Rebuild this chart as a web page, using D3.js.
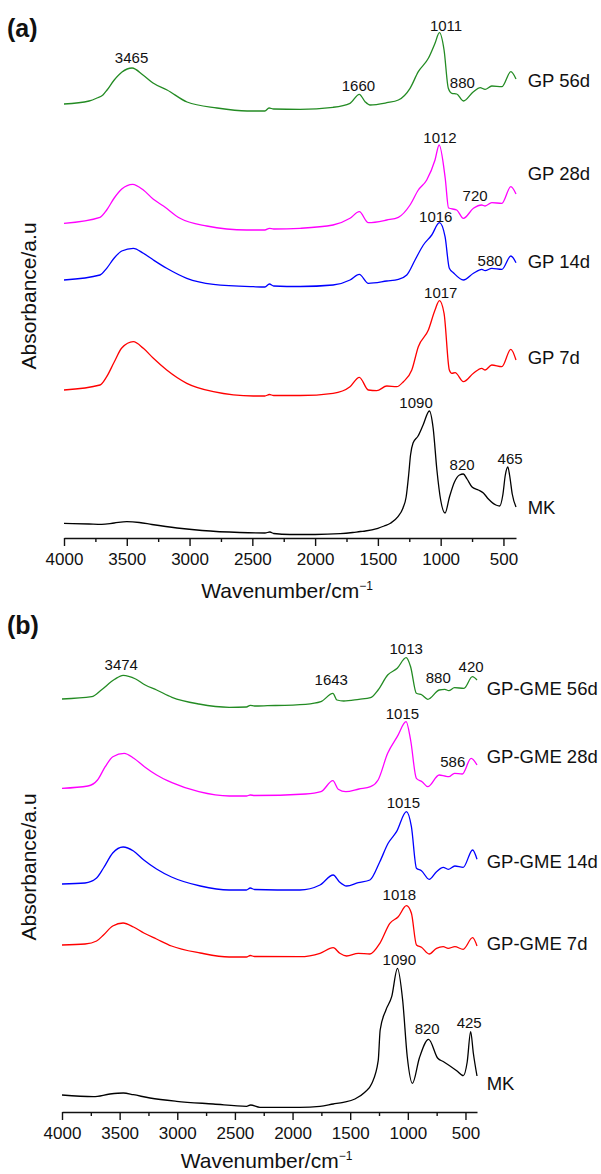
<!DOCTYPE html>
<html>
<head>
<meta charset="utf-8">
<script src="https://cdn.jsdelivr.net/npm/d3@7"></script>
<style>
  body { margin: 0; background: #fff; }
  text { font-family: "Liberation Sans", Arial, Helvetica, sans-serif; fill: #111; }
</style>
</head>
<body>
<div class="chart-box"></div>
<script>
let width = 601;
let height = 1174;

// tick marks on the wavenumber axis
let majorTicks = [4000, 3500, 3000, 2500, 2000, 1500, 1000, 500];
let minorTicks = [3750, 3250, 2750, 2250, 1750, 1250, 750];

// ---- panel (a) spectra : [wavenumber, absorbance a.u. (stacked)] ----
let gp56 = [[4000,4.34],[3800,4.37],[3737,4.40],[3690,4.43],[3657,4.48],[3600,4.58],[3538,4.66],[3458,4.70],
  [3371,4.63],[3291,4.55],[3179,4.48],[3020,4.36],[2781,4.30],[2542,4.27],[2400,4.27],[2367,4.30],[2330,4.29],
  [2120,4.287],[1857,4.307],[1722,4.347],[1648,4.437],[1602,4.363],[1562,4.33],[1429,4.353],[1337,4.38],
  [1244,4.497],[1178,4.663],[1098,4.797],[1045,4.947],[1010,5.053],[973,4.88],[939,4.497],[911,4.447],
  [872,4.44],[819,4.37],[739,4.463],[686,4.503],[646,4.487],[593,4.52],[513,4.513],[441,4.663],[400,4.59]];
let gp28 = [[4000,3.147],[3713,3.207],[3660,3.28],[3600,3.40],[3540,3.49],[3453,3.537],[3368,3.48],[3288,3.387],
  [3208,3.32],[3076,3.197],[2863,3.12],[2545,3.08],[2400,3.08],[2364,3.097],[2330,3.09],[2120,3.097],
  [1857,3.13],[1722,3.197],[1648,3.263],[1576,3.153],[1429,3.18],[1337,3.207],[1244,3.33],[1178,3.48],
  [1111,3.58],[1045,3.78],[1012,3.93],[964,3.60],[937,3.30],[872,3.28],[819,3.197],[739,3.297],[673,3.33],
  [646,3.32],[593,3.353],[513,3.347],[441,3.513],[400,3.44]];
let gp14 = [[4000,2.58],[3713,2.63],[3660,2.697],[3600,2.80],[3540,2.87],[3448,2.897],[3368,2.847],[3288,2.78],
  [3182,2.697],[3022,2.597],[2810,2.537],[2492,2.513],[2400,2.51],[2364,2.54],[2330,2.52],[2120,2.515],
  [1857,2.53],[1722,2.58],[1648,2.637],[1576,2.547],[1429,2.57],[1337,2.587],[1270,2.63],[1204,2.78],
  [1138,2.93],[1071,3.03],[1010,3.153],[965,3.013],[931,2.697],[899,2.653],[819,2.58],[739,2.647],
  [673,2.687],[646,2.673],[593,2.697],[513,2.687],[441,2.82],[400,2.753]];
let gp7 = [[4000,1.48],[3713,1.53],[3660,1.613],[3600,1.76],[3540,1.90],[3448,1.963],[3368,1.897],[3288,1.797],
  [3182,1.68],[3022,1.547],[2810,1.463],[2492,1.42],[2400,1.42],[2364,1.435],[2330,1.425],[2120,1.425],
  [1857,1.447],[1722,1.513],[1648,1.607],[1576,1.48],[1509,1.473],[1429,1.52],[1350,1.513],[1297,1.563],
  [1230,1.68],[1178,1.913],[1098,2.08],[1045,2.28],[1010,2.373],[973,2.247],[931,1.68],[911,1.647],
  [885,1.653],[819,1.563],[739,1.647],[673,1.697],[646,1.68],[593,1.73],[513,1.713],[441,1.887],[400,1.78]];
let mkA = [[4000,0.147],[3800,0.14],[3700,0.137],[3600,0.15],[3500,0.163],[3400,0.155],[3300,0.135],[3100,0.10],
  [2900,0.075],[2600,0.055],[2400,0.05],[2360,0.06],[2330,0.045],[2200,0.035],[2000,0.035],[1800,0.043],
  [1700,0.055],[1640,0.065],[1600,0.07],[1500,0.097],[1450,0.12],[1400,0.147],[1340,0.213],[1300,0.30],
  [1275,0.41],[1255,0.63],[1240,0.83],[1220,0.95],[1180,1.02],[1140,1.13],[1090,1.27],[1060,1.10],
  [1030,0.68],[1000,0.38],[965,0.25],[930,0.41],[890,0.56],[850,0.63],[820,0.64],[790,0.59],[750,0.51],
  [700,0.48],[660,0.45],[620,0.39],[560,0.33],[530,0.32],[505,0.43],[485,0.63],[465,0.71],[450,0.62],
  [430,0.44],[400,0.31]];

// ---- panel (b) spectra ----
let gme56 = [[4000,4.13],[3742,4.153],[3659,4.22],[3543,4.327],[3470,4.367],[3361,4.33],[3278,4.27],[3179,4.22],
  [3046,4.147],[2813,4.08],[2549,4.047],[2400,4.05],[2367,4.067],[2330,4.06],[2218,4.063],[1887,4.077],
  [1754,4.103],[1650,4.187],[1615,4.12],[1556,4.11],[1424,4.127],[1324,4.143],[1258,4.22],[1175,4.37],
  [1092,4.437],[1015,4.543],[976,4.453],[926,4.187],[877,4.17],[827,4.127],[728,4.22],[679,4.227],
  [645,4.213],[595,4.243],[513,4.237],[440,4.353],[400,4.32]];
let gme28 = [[4000,3.237],[3775,3.26],[3692,3.32],[3625,3.453],[3559,3.553],[3460,3.587],[3377,3.537],[3285,3.453],
  [3179,3.37],[3046,3.293],[2813,3.203],[2549,3.16],[2400,3.16],[2367,3.17],[2330,3.165],[1887,3.18],
  [1754,3.203],[1650,3.313],[1604,3.227],[1538,3.203],[1424,3.23],[1324,3.253],[1258,3.32],[1175,3.587],
  [1092,3.753],[1015,3.903],[976,3.72],[926,3.337],[877,3.303],[827,3.253],[728,3.37],[679,3.36],
  [645,3.353],[595,3.387],[528,3.38],[451,3.537],[400,3.47]];
let gme14 = [[4000,2.28],[3800,2.29],[3700,2.34],[3640,2.44],[3560,2.59],[3470,2.65],[3380,2.61],[3290,2.52],
  [3180,2.43],[3050,2.35],[2800,2.26],[2550,2.22],[2400,2.22],[2367,2.24],[2330,2.225],[1936,2.22],
  [1762,2.27],[1647,2.37],[1595,2.303],[1531,2.26],[1430,2.293],[1329,2.32],[1243,2.503],[1171,2.687],
  [1098,2.803],[1012,3.003],[969,2.853],[925,2.437],[882,2.413],[815,2.327],[751,2.403],[693,2.447],
  [650,2.427],[592,2.46],[520,2.447],[438,2.62],[400,2.527]];
let gme7 = [[4000,1.67],[3800,1.68],[3700,1.71],[3640,1.77],[3560,1.86],[3470,1.89],[3380,1.85],[3290,1.79],
  [3180,1.73],[3050,1.66],[2800,1.59],[2550,1.55],[2400,1.55],[2367,1.565],[2330,1.555],[1936,1.553],
  [1762,1.587],[1647,1.643],[1590,1.587],[1531,1.56],[1430,1.587],[1329,1.58],[1243,1.687],[1156,1.887],
  [1083,1.953],[1012,2.063],[969,1.987],[925,1.67],[882,1.647],[815,1.58],[751,1.637],[693,1.653],
  [650,1.637],[592,1.653],[520,1.627],[438,1.743],[400,1.66]];
let mkB = [[4000,0.17],[3728,0.153],[3584,0.18],[3468,0.19],[3381,0.173],[3237,0.14],[3006,0.107],[2688,0.08],
  [2399,0.057],[2364,0.07],[2283,0.047],[1936,0.047],[1762,0.057],[1647,0.08],[1560,0.097],[1459,0.13],
  [1373,0.197],[1315,0.28],[1257,0.513],[1240,0.82],[1190,1.02],[1140,1.153],[1090,1.437],[1045,1.12],
  [1005,0.553],[960,0.287],[900,0.54],[820,0.727],[740,0.537],[690,0.503],[576,0.413],[519,0.363],
  [485,0.50],[455,0.803],[432,0.59],[400,0.36]];

// series names, colours and where their names sit (absorbance level)
let namesA = ["GP 56d", "GP 28d", "GP 14d", "GP 7d", "MK"];
let namesB = ["GP-GME 56d", "GP-GME 28d", "GP-GME 14d", "GP-GME 7d", "MK"];
let nameLevelsA = [4.51, 3.58, 2.70, 1.74, 0.24];
let nameLevelsB = [4.17, 3.487, 2.437, 1.62, 0.22];
let colors = ["#238b23", "#ff00ff", "#0000ff", "#ff0000", "#000000"];

// peak annotations : [text, wavenumber position, absorbance level]
let peaksA = [["3465",3462,4.747],["1660",1655,4.47],["1011",957,5.07],["880",827,4.503],
  ["1012",1005,3.947],["720",726,3.37],["1016",1039,3.163],["580",606,2.72],["1017",999,2.397],
  ["1090",1196,1.297],["820",829,0.68],["465",447,0.74]];
let peaksB = [["3474",3486,4.42],["1643",1664,4.27],["1013",1014,4.58],["880",736,4.287],["420",451,4.397],
  ["1015",1047,3.927],["586",610,3.453],["1015",1039,3.037],["1018",1074,2.12],
  ["1090",1074,1.47],["820",832,0.78],["425",468,0.837]];

let svg = d3.select(".chart-box")
  .append("svg")
  .attr("width", width)
  .attr("height", height)
  .style("background", "#fff")

let drawPanel = function (p) {
  let x = d3.scaleLinear().domain([4000, 400]).range([p.left, p.right]);
  let y = d3.scaleLinear().domain([0, 5.2]).range([p.axisY, p.axisY - 520]);
  let g = svg.append("g");

  let line = d3.line()
    .x(function (d) { return x(d[0]); })
    .y(function (d) { return y(d[1]); })
    .curve(d3.curveMonotoneX);

  //spectra
  g.selectAll("path.spec")
    .data(p.series)
    .enter()
    .append("path")
    .attr("class", "spec")
    .attr("d", line)
    .attr("fill", "none")
    .attr("stroke", function (d, i) { return colors[i]; })
    .attr("stroke-width", 1.3)

  //series names
  g.selectAll("text.name")
    .data(p.names)
    .enter()
    .append("text")
    .attr("x", p.right + p.nameGap)
    .attr("y", function (d, i) { return y(p.levels[i]); })
    .style("font-size", "18.5px")
    .text(function (d) { return d; })

  //peak labels
  g.selectAll("text.peak")
    .data(p.peaks)
    .enter()
    .append("text")
    .attr("x", function (d) { return x(d[1]); })
    .attr("y", function (d) { return y(d[2]); })
    .attr("text-anchor", "middle")
    .style("font-size", "15px")
    .text(function (d) { return d[0]; })

  //axis
  let ax = g.append("g")
    .attr("transform", "translate(0," + p.axisY + ")")
    .call(d3.axisBottom(x).tickValues(majorTicks).tickFormat(d3.format("d"))
      .tickSize(8).tickSizeOuter(0).tickPadding(7));
  ax.selectAll("text").attr("font-size", 17).attr("font-family", null).attr("fill", "#111");
  ax.selectAll("line, path").attr("stroke", "#111").attr("stroke-width", 1.4);

  let minor = g.append("g")
    .attr("transform", "translate(0," + p.axisY + ")")
    .call(d3.axisBottom(x).tickValues(minorTicks).tickSize(4).tickFormat(""));
  minor.select(".domain").remove();
  minor.selectAll("line").attr("stroke", "#111").attr("stroke-width", 1.4);

  //axis titles
  let t = g.append("text")
    .attr("x", (p.left + p.right) / 2 - 3)
    .attr("y", p.axisY + p.titleGap)
    .attr("text-anchor", "middle")
    .style("font-size", "21px")
    .text("Wavenumber/cm");
  t.append("tspan").attr("dy", -8).style("font-size", "12px").text("\u22121");

  g.append("text")
    .attr("transform", "translate(" + 36 + "," + p.labelMid + ") rotate(-90)")
    .attr("text-anchor", "middle")
    .style("font-size", "21px")
    .text("Absorbance/a.u");

  g.append("text")
    .attr("x", 7)
    .attr("y", p.tagY)
    .style("font-size", "25px")
    .style("font-weight", "bold")
    .text(p.tag);
}

drawPanel({ left: 64, right: 516, axisY: 538, titleGap: 60, nameGap: 11.7, labelMid: 296, tagY: 37, tag: "(a)",
  series: [gp56, gp28, gp14, gp7, mkA], names: namesA, levels: nameLevelsA, peaks: peaksA });
drawPanel({ left: 62, right: 477, axisY: 1112, titleGap: 56, nameGap: 9.7, labelMid: 867, tagY: 634, tag: "(b)",
  series: [gme56, gme28, gme14, gme7, mkB], names: namesB, levels: nameLevelsB, peaks: peaksB });
</script>
</body>
</html>
